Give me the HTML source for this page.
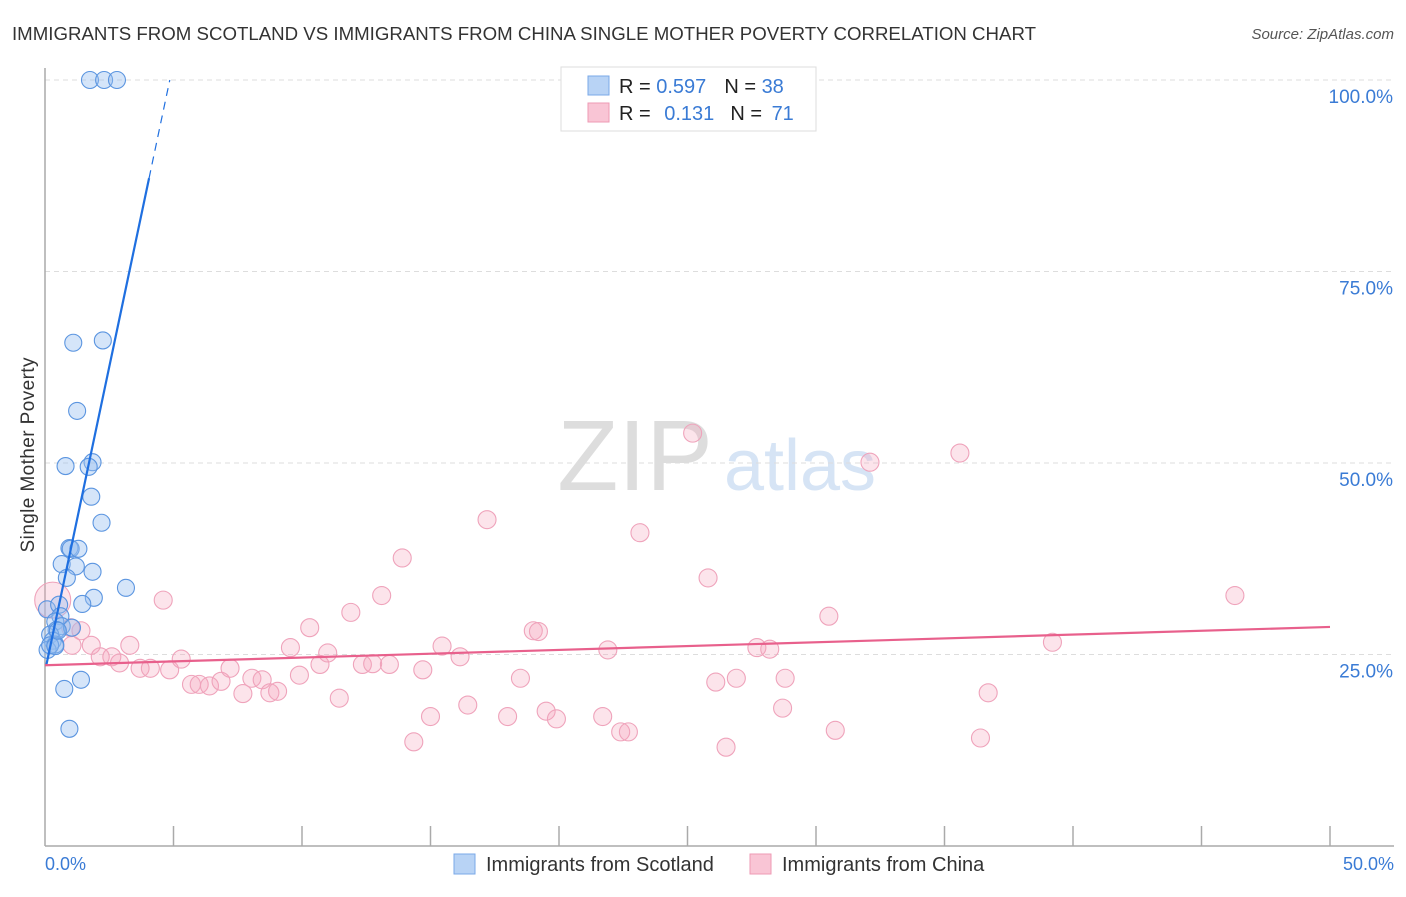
<!DOCTYPE html>
<html><head><meta charset="utf-8"><style>
body{margin:0;background:#fff;font-family:"Liberation Sans",sans-serif;}
svg text{font-family:"Liberation Sans",sans-serif;}
</style></head><body>
<svg id="chart" width="1406" height="892" xmlns="http://www.w3.org/2000/svg">
<text x="12" y="40" font-size="18" fill="#333" textLength="1024" lengthAdjust="spacingAndGlyphs">IMMIGRANTS FROM SCOTLAND VS IMMIGRANTS FROM CHINA SINGLE MOTHER POVERTY CORRELATION CHART</text>
<text x="1394" y="39" font-size="15" fill="#555" font-style="italic" text-anchor="end">Source: ZipAtlas.com</text>
<text x="635" y="490" font-size="100" fill="#ddd" font-family="Liberation Serif" text-anchor="middle">ZIP</text>
<text x="800" y="490" font-size="72" fill="#d6e4f5" text-anchor="middle">atlas</text>
<g id="grid"></g>
<line x1="45" y1="68" x2="45" y2="846" stroke="#aaa" stroke-width="1.5"/>
<line x1="45" y1="846" x2="1394" y2="846" stroke="#aaa" stroke-width="1.5"/>
<g id="xticks"></g>
<text x="34" y="455" font-size="19" fill="#333" text-anchor="middle" textLength="195" transform="rotate(-90 34 455)">Single Mother Poverty</text>
<text x="45" y="870" font-size="18" fill="#3a7bd5">0.0%</text>
<text x="1394" y="870" font-size="18" fill="#3a7bd5" text-anchor="end">50.0%</text>
<g id="pts"></g>
<g id="lines"></g>
<g>
<rect x="561" y="67" width="255" height="64" fill="#fff" stroke="#ddd"/>
<rect x="588" y="76" width="21" height="19" fill="#b8d3f5" stroke="#7aa8e8"/>
<rect x="588" y="103" width="21" height="19" fill="#f9c5d5" stroke="#ee9ab4"/>
<text x="619" y="93" font-size="20" fill="#222">R = <tspan fill="#3a7bd5">0.597</tspan><tspan dx="18">N = </tspan><tspan fill="#3a7bd5">38</tspan></text>
<text x="619" y="120" font-size="20" fill="#222">R = <tspan dx="8" fill="#3a7bd5">0.131</tspan><tspan dx="16">N = </tspan><tspan dx="4" fill="#3a7bd5">71</tspan></text>
</g>
<g>
<rect x="454" y="854" width="21" height="20" fill="#b8d3f5" stroke="#7aa8e8"/>
<text x="486" y="871" font-size="20" fill="#333">Immigrants from Scotland</text>
<rect x="750" y="854" width="21" height="20" fill="#f9c5d5" stroke="#ee9ab4"/>
<text x="782" y="871" font-size="20" fill="#333">Immigrants from China</text>
</g>
</svg>
<script>
const yTicks=[25,50,75,100];
const yTickLabels=["25.0%","50.0%","75.0%","100.0%"];
const scotX=[1.75,2.3,2.8,1.1,2.25,1.25,0.8,1.85,1.7,1.8,2.2,0.95,1.0,1.3,0.65,1.2,0.85,1.85,3.15,1.9,1.45,0.08,0.55,0.6,0.4,0.65,0.45,1.05,0.2,0.3,0.4,0.1,0.2,0.4,0.75,1.4,0.95,0.5];
const scotY=[100,100,100,65.7,66,56.8,49.6,50.1,49.5,45.6,42.2,38.9,38.8,38.8,36.8,36.5,35.0,35.8,33.7,32.4,31.6,30.9,31.5,30.0,29.3,28.7,28.2,28.5,27.6,26.8,26.3,25.6,26.2,26.1,20.5,21.7,15.3,28.1];
const chinaX=[0.3,1.4,1.0,1.05,1.8,2.15,2.6,2.9,3.3,3.7,4.1,4.6,4.85,5.3,5.7,6.0,6.4,6.85,7.2,7.7,8.05,8.45,8.75,9.05,9.55,9.9,10.3,10.7,11.0,11.45,11.9,12.35,12.75,13.1,13.4,13.9,14.35,14.7,15.0,15.45,16.15,16.45,17.2,18.0,18.5,19.0,19.2,19.5,19.9,21.7,21.9,22.4,22.7,23.15,25.2,25.8,26.1,26.5,26.9,27.7,28.2,28.7,28.8,30.5,30.75,32.1,35.6,36.4,36.7,39.2,46.3];
const chinaY=[32.1,28.1,28.5,26.2,26.2,24.7,24.7,23.9,26.2,23.2,23.2,32.1,23.0,24.4,21.1,21.1,20.9,21.5,23.2,19.9,21.9,21.7,20.0,20.2,25.9,22.3,28.5,23.7,25.2,19.3,30.5,23.7,23.8,32.7,23.7,37.6,13.6,23.0,16.9,26.1,24.7,18.4,42.6,16.9,21.9,28.1,28.0,17.6,16.6,16.9,25.6,14.9,14.9,40.9,53.9,35.0,21.4,12.9,21.9,25.9,25.7,18.0,21.9,30.0,15.1,50.1,51.3,14.1,20.0,26.6,32.7];
const X=v=>45+v*25.7, Y=v=>846-v*7.66;
const ns="http://www.w3.org/2000/svg";
function mk(t,a,p){const e=document.createElementNS(ns,t);for(const k in a)e.setAttribute(k,a[k]);p.appendChild(e);return e;}
const grid=document.getElementById('grid');
yTicks.forEach((t,i)=>{
 const l=mk('line',{x1:45,x2:1394,y1:Y(t),y2:Y(t),stroke:'#ddd','stroke-dasharray':'5,4'},grid);
 
 
 const tx=mk('text',{x:1393,y:Y(t)+23,'font-size':19,fill:'#3a7bd5','text-anchor':'end'},grid);
 tx.textContent=yTickLabels[i];
 
 
});
const xt=document.getElementById('xticks');
for(let i=1;i<=10;i++){const l=mk('line',{x1:X(i*5),x2:X(i*5),y1:826,y2:846,stroke:'#aaa','stroke-width':1.5},xt);
 
 }
const pts=document.getElementById('pts');
chinaX.forEach((x,i)=>{const c=mk('circle',{cx:X(x),cy:Y(chinaY[i]),r:i==0?18:9,fill:'rgba(245,165,190,0.3)',stroke:'#efa3bb','stroke-width':1.1},pts);
 
 });
scotX.forEach((x,i)=>{const c=mk('circle',{cx:X(x),cy:Y(scotY[i]),r:8.5,fill:'rgba(150,190,240,0.4)',stroke:'#5b95e0','stroke-width':1.1},pts);
 
 });
const lg=document.getElementById('lines');
const b0=22.8,b1=15.9;
let l1=mk('line',{x1:X(0.05),y1:Y(b0+b1*0.05),x2:X(4.05),y2:Y(b0+b1*4.05),stroke:'#1f6fe0','stroke-width':2.2},lg);


let l2=mk('line',{x1:X(4.05),y1:Y(b0+b1*4.05),x2:X((100-b0)/b1),y2:Y(100),stroke:'#1f6fe0','stroke-width':1.2,'stroke-dasharray':'8,6'},lg);


let l3=mk('line',{x1:X(0),y1:Y(23.6),x2:X(50),y2:Y(28.6),stroke:'#e8608c','stroke-width':2.2},lg);


</script>
</body></html>
